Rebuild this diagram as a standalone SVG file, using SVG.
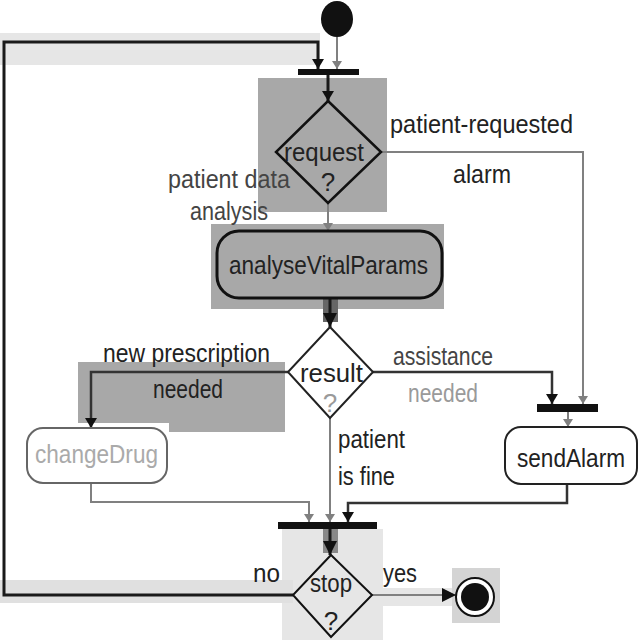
<svg xmlns="http://www.w3.org/2000/svg" width="640" height="640" viewBox="0 0 640 640">
<style>
  text { font-family: "Liberation Sans", Arial, sans-serif; font-size: 26px; fill: #222; }
  .faded { fill: #9a9a9a; }
  .dk { fill: none; stroke: #1a1a1a; stroke-width: 3; }
  .gr { fill: none; stroke: #808080; stroke-width: 2; }
  .md { fill: none; stroke: #333; stroke-width: 2.5; }
  .bar { fill: #111; }
</style>
<defs>
  <marker id="ab" markerWidth="10" markerHeight="12" refX="10" refY="6" orient="auto" markerUnits="userSpaceOnUse">
    <path d="M0,0 L10,6 L0,12 Z" fill="#111"/>
  </marker>
  <marker id="ag" markerWidth="8" markerHeight="10" refX="8" refY="5" orient="auto" markerUnits="userSpaceOnUse">
    <path d="M0,0 L8,5 L0,10 Z" fill="#808080"/>
  </marker>
  <marker id="abig" markerWidth="14" markerHeight="14" refX="14" refY="7" orient="auto" markerUnits="userSpaceOnUse">
    <path d="M0,0 L14,7 L0,14 Z" fill="#111"/>
  </marker>
</defs>

<g id="highlights">
  <rect x="0" y="33" width="320" height="32" fill="#e6e6e6"/>
  <rect x="258" y="78" width="129" height="134" fill="#a8a8a8"/>
  <rect x="211" y="224" width="233" height="85" fill="#a8a8a8"/>
  <rect x="323" y="298" width="15" height="24" fill="#666"/>
  <rect x="78" y="362" width="207" height="70" fill="#a8a8a8"/>
  <rect x="78" y="423" width="91" height="9" fill="#fff"/>
  <rect x="282" y="529" width="101" height="111" fill="#e6e6e6"/>
  <rect x="323" y="529" width="15" height="24" fill="#888"/>
  <rect x="0" y="580" width="293" height="23" fill="#e0e0e0"/>
  <rect x="372" y="588" width="80" height="18" fill="#e6e6e6"/>
  <rect x="452" y="568" width="48" height="55" fill="#d4d4d4"/>
</g>

<g id="connectors">
  <path class="dk" d="M293,595 H4 V42 H318 V69" marker-end="url(#ab)"/>
  <path class="gr" d="M337,37 V69" marker-end="url(#ag)"/>
  <path class="dk" d="M328,75 V101" marker-end="url(#ab)"/>
  <path class="gr" d="M381,152 H583 V404" marker-end="url(#ag)"/>
  <path class="gr" d="M328,203 V231" marker-end="url(#ag)"/>
  <path class="dk" d="M330,298 V327" marker-end="url(#abig)"/>
  <path class="md" d="M288,372 H91 V428" marker-end="url(#ab)"/>
  <path class="md" d="M373,372 H552 V404" marker-end="url(#ab)"/>
  <path class="gr" d="M568,412 V427" marker-end="url(#ag)"/>
  <path class="gr" d="M330,418 V522" marker-end="url(#ag)"/>
  <path class="gr" stroke-width="1.5" d="M91,483 V502 H309 V522" marker-end="url(#ag)"/>
  <path class="md" d="M567,484 V503 H348 V522" marker-end="url(#ab)"/>
  <path class="dk" d="M330,529 V555" marker-end="url(#abig)"/>
  <path class="gr" stroke-width="3" d="M372,595 H456" marker-end="url(#abig)"/>
</g>

<g id="labels">
  <text x="390" y="133" textLength="183" lengthAdjust="spacingAndGlyphs">patient-requested</text>
  <text x="453" y="183" textLength="58" lengthAdjust="spacingAndGlyphs">alarm</text>
  <text x="168" y="188" textLength="122" lengthAdjust="spacingAndGlyphs" style="fill:#444">patient data</text>
  <text x="190" y="220" textLength="78" lengthAdjust="spacingAndGlyphs" style="fill:#444">analysis</text>
  <text x="103" y="362" textLength="167" lengthAdjust="spacingAndGlyphs">new prescription</text>
  <text x="153" y="398" textLength="70" lengthAdjust="spacingAndGlyphs">needed</text>
  <text x="393" y="365" textLength="100" lengthAdjust="spacingAndGlyphs" style="fill:#444">assistance</text>
  <text x="408" y="402" textLength="70" lengthAdjust="spacingAndGlyphs" class="faded">needed</text>
  <text x="338" y="448" textLength="67" lengthAdjust="spacingAndGlyphs">patient</text>
  <text x="338" y="485" textLength="57" lengthAdjust="spacingAndGlyphs">is fine</text>
  <text x="253" y="582" textLength="27" lengthAdjust="spacingAndGlyphs">no</text>
  <text x="383" y="582" textLength="34" lengthAdjust="spacingAndGlyphs">yes</text>
</g>

<g id="start"><ellipse cx="337" cy="19" rx="16" ry="18" fill="#111"/></g>
<g id="fork1"><rect class="bar" x="298" y="69" width="61" height="6"/></g>
<g id="request">
  <polygon points="328,101 381,152 328,203 276,152" fill="none" stroke="#111" stroke-width="2.5"/>
  <text x="284" y="161" textLength="80" lengthAdjust="spacingAndGlyphs">request</text>
  <text x="328" y="191" text-anchor="middle">?</text>
</g>
<g id="analyseVitalParams">
  <rect x="217" y="231" width="225" height="67" rx="22" fill="#a8a8a8" stroke="#111" stroke-width="3"/>
  <text x="229" y="274" textLength="199" lengthAdjust="spacingAndGlyphs">analyseVitalParams</text>
</g>
<g id="result">
  <polygon points="330,327 373,372 330,418 288,372" fill="#fff" stroke="#222" stroke-width="2"/>
  <text x="300" y="382" textLength="63" lengthAdjust="spacingAndGlyphs">result</text>
  <text x="330" y="412" text-anchor="middle" class="faded">?</text>
</g>
<g id="changeDrug">
  <rect x="27" y="428" width="140" height="55" rx="16" fill="#fff" stroke="#666" stroke-width="2"/>
  <text x="35" y="463" textLength="123" lengthAdjust="spacingAndGlyphs" style="fill:#aaa">changeDrug</text>
</g>
<g id="fork2"><rect class="bar" x="537" y="404" width="61" height="8"/></g>
<g id="sendAlarm">
  <rect x="505" y="427" width="132" height="57" rx="16" fill="#fff" stroke="#222" stroke-width="2"/>
  <text x="517" y="467" textLength="108" lengthAdjust="spacingAndGlyphs">sendAlarm</text>
</g>
<g id="join"><rect class="bar" x="278" y="522" width="99" height="7"/></g>
<g id="stop">
  <polygon points="331,555 372,595 331,637 293,595" fill="none" stroke="#111" stroke-width="2"/>
  <text x="310" y="592" textLength="42" lengthAdjust="spacingAndGlyphs">stop</text>
  <text x="331" y="630" text-anchor="middle">?</text>
</g>
<g id="end">
  <circle cx="475" cy="597" r="19" fill="#fff" stroke="#111" stroke-width="2"/>
  <circle cx="475" cy="597" r="14" fill="#111"/>
</g>
</svg>
